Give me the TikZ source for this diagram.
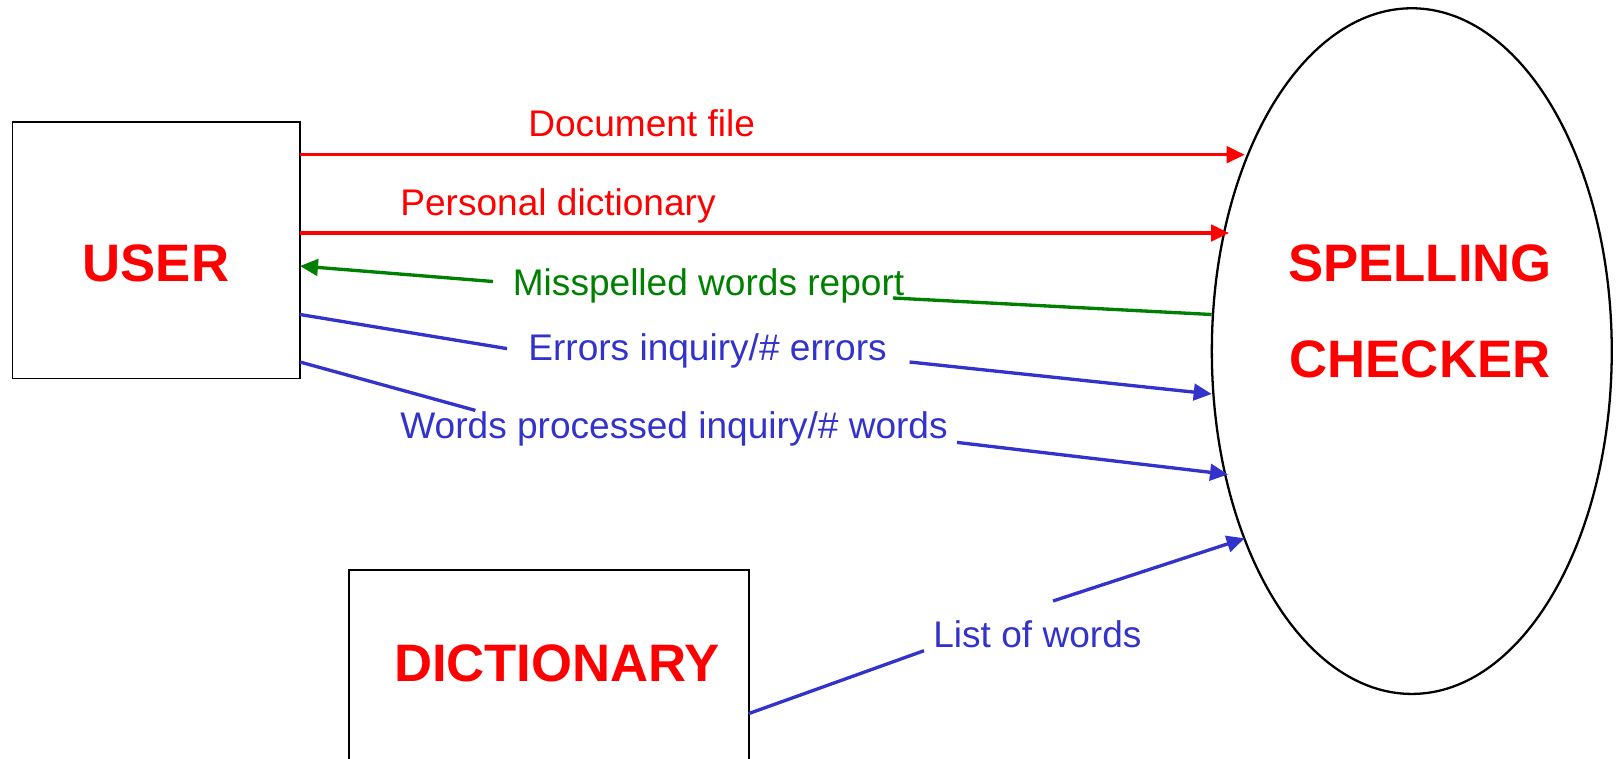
\documentclass[tikz,border=0pt]{standalone}
\usepackage{fontspec}
\setmainfont{Liberation Sans}
\usetikzlibrary{arrows.meta,shapes.geometric}
\definecolor{flowred}{RGB}{255,0,0}
\definecolor{flowgreen}{RGB}{0,128,0}
\definecolor{flowblue}{RGB}{51,51,204}

\begin{document}
\begin{tikzpicture}[x=0.02cm, y=-0.02cm,
        entity/.style={draw, line width=1pt, inner sep=0pt, outer sep=0pt},
        entitytext/.style={text=flowred, font=\fontsize{30}{36}\selectfont\bfseries, inner sep=0pt, anchor=base},
        flow/.style={line width=1.9pt},
        flowtip/.style={-{Triangle[length=0.36cm, width=0.33cm]}},
        flowtext/.style={font=\fontsize{21.1}{25}\selectfont, inner sep=0pt, anchor=base west}]
        \useasboundingbox (0,0) rectangle (1617,758);
        % entities
        \node[entity, minimum width=5.752cm, minimum height=5.136cm] (user) at (156.2,250.1) {};
        \node[entitytext] (userlbl) at (156,281.5) {USER};
        \node[entity, minimum width=8.002cm, minimum height=3.84cm] (dict) at (548.65,666) {};
        \node[entitytext] (dictlbl) at (557,681.6) {DICTIONARY};
        \node[entity, ellipse, line width=1.3pt, minimum width=8cm, minimum height=13.716cm] (spell) at (1411.8,351.1) {};
        \node[entitytext] (spelltop) at (1420,281.5) {SPELLING};
        \node[entitytext] (spellbot) at (1420,377) {CHECKER};
        % connector end points
        \coordinate (docend) at (1244.7,154.7);
        \coordinate (perend) at (1229,233);
        \coordinate (misA) at (1211.7,314.5);
        \coordinate (misB) at (893,298);
        \coordinate (misC) at (493,281.5);
        \coordinate (misend) at (300,266);
        \coordinate (errA) at (300,314.5);
        \coordinate (errB) at (507,348.6);
        \coordinate (errC) at (909.6,362);
        \coordinate (errend) at (1211.7,394);
        \coordinate (wrdA) at (300,362);
        \coordinate (wrdB) at (475.4,410.4);
        \coordinate (wrdC) at (957,442.4);
        \coordinate (wrdend) at (1228,474.4);
        \coordinate (lstA) at (dict.east |- 0,713.6);
        \coordinate (lstB) at (924,650.7);
        \coordinate (lstC) at (1053,601);
        \coordinate (lstend) at (1244.7,538.3);
        % flows
        \draw[flow, flowtip, flowred] (user.east |- docend) -- (docend);
        \node[flowtext, text=flowred] (doclbl) at (528,136) {Document file};
        \draw[flow, flowtip, flowred] (user.east |- perend) -- (perend);
        \node[flowtext, text=flowred] (perlbl) at (400,215.6) {Personal dictionary};
        \draw[flow, flowgreen] (misA) -- (misB);
        \draw[flow, flowtip, flowgreen] (misC) -- (user.east |- misend);
        \node[flowtext, text=flowgreen] (mislbl) at (512.5,295) {Misspelled words report};
        \draw[flow, flowblue] (user.east |- errA) -- (errB);
        \draw[flow, flowtip, flowblue] (errC) -- (errend);
        \node[flowtext, text=flowblue] (errlbl) at (528,360) {Errors inquiry/\# errors};
        \draw[flow, flowblue] (user.east |- wrdA) -- (wrdB);
        \draw[flow, flowtip, flowblue] (wrdC) -- (wrdend);
        \node[flowtext, text=flowblue] (wrdlbl) at (400,438) {Words processed inquiry/\# words};
        \draw[flow, flowblue] (lstA) -- (lstB);
        \draw[flow, flowtip, flowblue] (lstC) -- (lstend);
        \node[flowtext, text=flowblue] (lstlbl) at (933,647.7) {List of words};
\end{tikzpicture}
\end{document}
